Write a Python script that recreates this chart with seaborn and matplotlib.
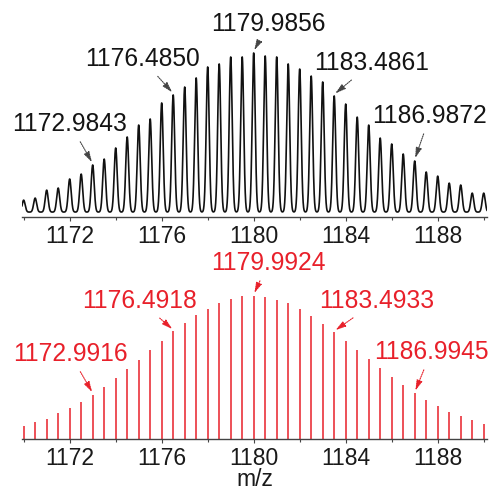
import numpy as np
import pandas as pd
import matplotlib
matplotlib.use('Agg')
import matplotlib.pyplot as plt
import seaborn as sns
from matplotlib.ticker import MultipleLocator

# centroides experimentales (m/z) y alturas relativas (%)
exp_mz = [1169.983, 1170.483, 1170.984, 1171.484, 1171.984, 1172.484, 1172.9843,
          1173.485, 1173.985, 1174.485, 1174.985, 1175.485, 1175.985, 1176.4850,
          1176.985, 1177.485, 1177.985, 1178.486, 1178.986, 1179.486, 1179.9856,
          1180.486, 1180.986, 1181.486, 1181.986, 1182.486, 1182.986, 1183.4861,
          1183.986, 1184.487, 1184.987, 1185.487, 1185.987, 1186.487, 1186.9872,
          1187.487, 1187.988, 1188.488, 1188.988, 1189.488, 1189.988]
exp_int = [7.5, 8.8, 13.8, 15.1, 20.8, 23.9, 29.6, 33.3, 40.3, 47.2, 54.7,
           58.5, 68.6, 73.6, 78.6, 84.3, 91.2, 93.1, 97.5, 97.5, 100.0,
           98.1, 97.5, 93.1, 89.9, 85.5, 81.8, 73.0, 67.9, 59.7, 54.7,
           46.5, 42.8, 36.5, 32.1, 25.2, 22.6, 18.2, 17.0, 11.9, 11.9]

# patron isotopico simulado
sim_mz = [1169.990, 1170.491, 1170.991, 1171.491, 1171.991, 1172.491, 1172.9916,
          1173.492, 1173.992, 1174.492, 1174.992, 1175.492, 1175.992, 1176.4918,
          1176.992, 1177.492, 1177.992, 1178.492, 1178.992, 1179.492, 1179.9924,
          1180.493, 1180.993, 1181.493, 1181.993, 1182.493, 1182.993, 1183.4933,
          1183.994, 1184.494, 1184.994, 1185.494, 1185.994, 1186.494, 1186.9945,
          1187.495, 1187.995, 1188.495, 1188.995, 1189.495, 1189.995]
sim_int = [9.3, 11.6, 14.0, 17.9, 21.6, 26.0, 30.9, 36.5, 42.3, 48.8, 55.1,
           62.1, 68.6, 75.1, 81.2, 86.3, 90.9, 95.1, 97.7, 99.5, 100.0,
           98.8, 97.2, 94.7, 90.5, 85.6, 80.5, 74.4, 68.4, 62.1, 55.8,
           49.5, 43.0, 37.7, 31.9, 27.2, 23.3, 19.1, 16.0, 13.0, 10.5]

exp_labels = ['1172.9843', '1176.4850', '1179.9856', '1183.4861', '1186.9872']
exp_label_idx = [6, 13, 20, 27, 34]
exp_label_pos = [(1172.0, 55.3), (1175.13, 96.2), (1180.61, 118.2),
                 (1185.13, 93.7), (1187.65, 60.4)]

sim_labels = ['1172.9916', '1176.4918', '1179.9924', '1183.4933', '1186.9945']
sim_label_idx = [6, 13, 20, 27, 34]
sim_label_pos = [(1172.0, 59.3), (1175.04, 96.3), (1180.61, 122.8),
                 (1185.35, 96.3), (1187.70, 60.7)]

ROJO = '#e8202a'


def perfil(centros, alturas, x, sigma=0.065):
    '''Perfil del espectro como suma de picos gaussianos'''
    y = np.zeros_like(x)
    for c, h in zip(centros, alturas):
        y += h * np.exp(-(x - c) ** 2 / (2 * sigma ** 2))
    return y


sns.set_theme(style='white')
plt.rcParams['font.family'] = ['Liberation Sans', 'DejaVu Sans']

fig = plt.figure(figsize=(4.95, 4.93), dpi=100)
ax1 = fig.add_axes([0.0444, 0.5598, 0.9394, 0.4402])
ax2 = fig.add_axes([0.0444, 0.1095, 0.9394, 0.3834])

x = np.linspace(1169.9, 1190.15, 6000)
df_exp = pd.DataFrame({'mz': x, 'int': perfil(exp_mz, exp_int, x)})
sns.lineplot(data=df_exp, x='mz', y='int', ax=ax1, color='#111111', lw=1.2)
ax1.set_ylim(-3.1, 133.3)

ax2.vlines(sim_mz, 0, sim_int, color=ROJO, lw=1.1)
ax2.set_ylim(0, 131.9)

flecha = dict(arrowstyle='-|>,head_length=0.35,head_width=0.1',
              linestyle=(0, (1.0, 1.0)), lw=0.8, shrinkA=2, shrinkB=1)

for lab, i, pos in zip(exp_labels, exp_label_idx, exp_label_pos):
    ax1.annotate(lab, xy=(exp_mz[i], exp_int[i] + 1), xytext=pos,
                 ha='center', va='center', fontsize=17.7, color='#141414',
                 arrowprops=dict(flecha, color='#444444'))

for lab, i, pos in zip(sim_labels, sim_label_idx, sim_label_pos):
    ax2.annotate(lab, xy=(sim_mz[i], sim_int[i] + 1), xytext=pos,
                 ha='center', va='center', fontsize=17.7, color=ROJO,
                 arrowprops=dict(flecha, color=ROJO))

for ax in (ax1, ax2):
    ax.set_xlim(1169.91, 1190.13)
    for s in ('top', 'left', 'right'):
        ax.spines[s].set_visible(False)
    ax.spines['bottom'].set_color('#444444')
    ax.spines['bottom'].set_linewidth(1.0)
    ax.set_yticks([])
    ax.set_ylabel('')
    ax.xaxis.set_major_locator(MultipleLocator(4))
    ax.xaxis.set_minor_locator(MultipleLocator(2))
    ax.set_xticks([1172, 1176, 1180, 1184, 1188])
    ax.tick_params(axis='x', which='major', bottom=True, direction='out',
                   length=3, width=0.8, color='#444444', labelsize=16.5,
                   pad=3, labelcolor='#1a1a1a')
    ax.tick_params(axis='x', which='minor', bottom=True, direction='out',
                   length=2, width=0.8, color='#444444')
    ax.set_facecolor('none')

ax1.set_xlabel('')
ax2.set_xlabel('m/z', fontsize=16.5, labelpad=-1.5, color='#1a1a1a')

fig.savefig('out.png', dpi=100)
